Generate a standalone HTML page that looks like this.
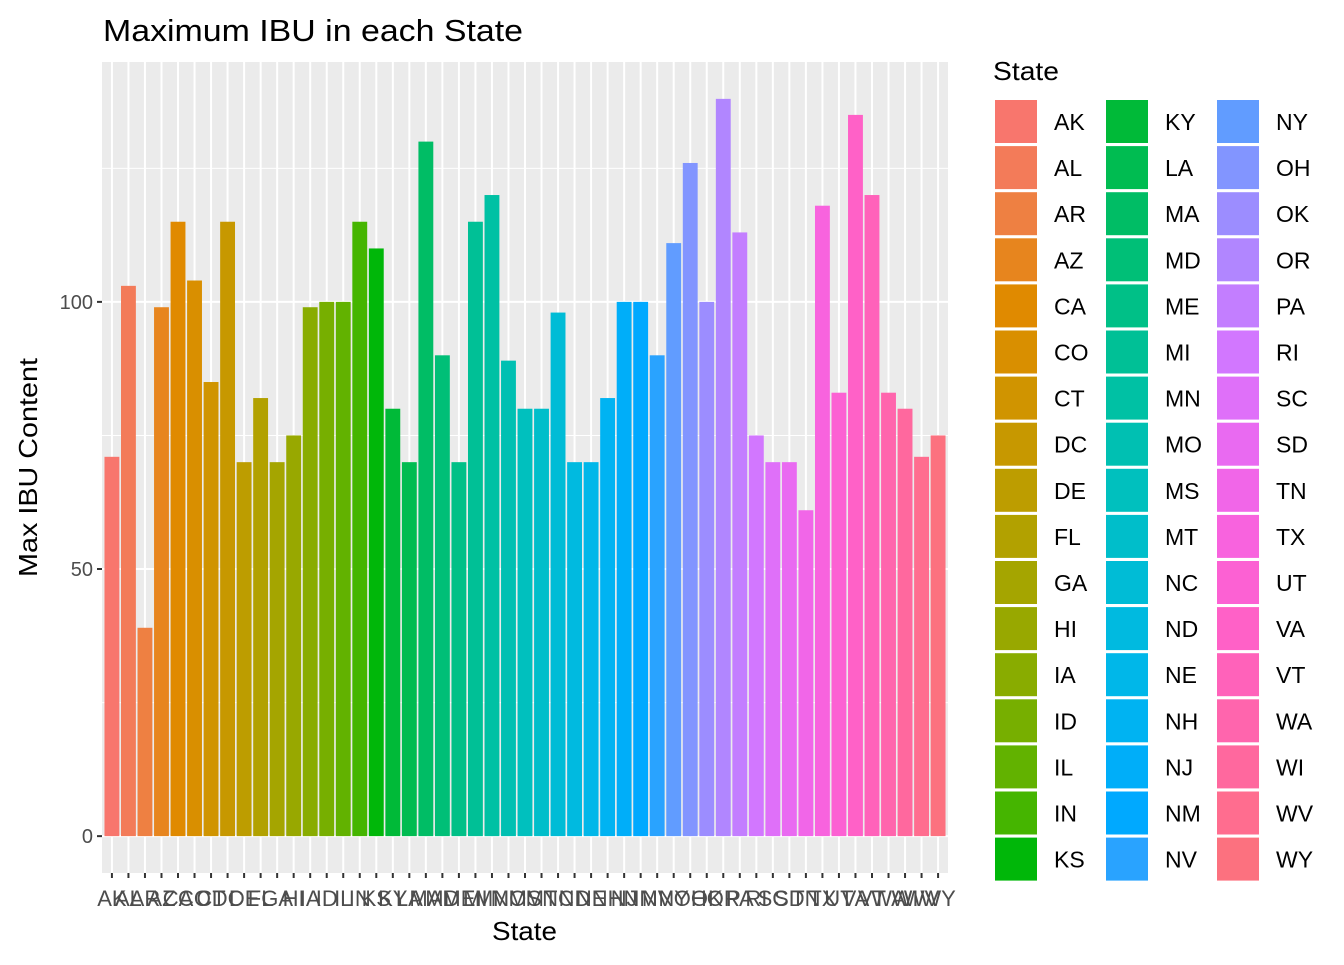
<!DOCTYPE html>
<html><head><meta charset="utf-8"><style>
body{margin:0;background:#fff;font-family:"Liberation Sans",Arial,sans-serif}
svg text{font-family:"Liberation Sans",Arial,sans-serif}
</style></head><body>
<svg id="chart" width="1344" height="960" xmlns="http://www.w3.org/2000/svg">
<rect width="1344" height="960" fill="#fff"/>
<text x="103" y="41" font-size="31" textLength="420" lengthAdjust="spacingAndGlyphs" fill="#000">Maximum IBU in each State</text>
<rect x="102" y="62" width="846" height="811" fill="#EBEBEB"/>
<g id="grid"></g><g id="bars"></g><g id="axes"></g><g id="legend"></g>
<text x="492" y="940" font-size="26" textLength="65" lengthAdjust="spacingAndGlyphs">State</text>
<text transform="translate(37,577) rotate(-90)" font-size="26" textLength="219" lengthAdjust="spacingAndGlyphs">Max IBU Content</text>
<text x="993" y="80" font-size="26" textLength="66" lengthAdjust="spacingAndGlyphs">State</text>
</svg>
<script>
const states=["AK","AL","AR","AZ","CA","CO","CT","DC","DE","FL","GA","HI","IA","ID","IL","IN","KS","KY","LA","MA","MD","ME","MI","MN","MO","MS","MT","NC","ND","NE","NH","NJ","NM","NV","NY","OH","OK","OR","PA","RI","SC","SD","TN","TX","UT","VA","VT","WA","WI","WV","WY"];
const maxIBU=[71,103,39,99,115,104,85,115,70,82,70,75,99,100,100,115,110,80,70,130,90,70,115,120,89,80,80,98,70,70,82,100,100,90,111,126,100,138,113,75,70,70,61,118,83,135,120,83,80,71,75];
const yTicks=[0,50,100];
const yMinor=[25,75,125];
const NS="http://www.w3.org/2000/svg";
function mk(tag,attrs,parent){const e=document.createElementNS(NS,tag);for(const k in attrs)e.setAttribute(k,attrs[k]);parent.appendChild(e);return e;}
function hcl(h,c,l){const hr=h*Math.PI/180,u=c*Math.cos(hr),v=c*Math.sin(hr);
 const Xn=95.047,Yn=100,Zn=108.883;const Y=l>8?Yn*Math.pow((l+16)/116,3):Yn*l/903.3;
 const d=Xn+15*Yn+3*Zn,un=4*Xn/d,vn=9*Yn/d;const up=u/(13*l)+un,vp=v/(13*l)+vn;
 const X=9*Y*up/(4*vp),Z=Y*(12-3*up-20*vp)/(4*vp);
 const x=X/100,y=Y/100,z=Z/100;
 let r=3.2404542*x-1.5371385*y-0.4985314*z,g=-0.9692660*x+1.8760108*y+0.0415560*z,b=0.0556434*x-0.2040259*y+1.0572252*z;
 const f=t=>{t=t<=0.0031308?12.92*t:1.055*Math.pow(t,1/2.4)-0.055;return Math.round(Math.max(0,Math.min(1,t))*255);};
 return `rgb(${f(r)},${f(g)},${f(b)})`;}
const n=states.length;
const colors=states.map((s,i)=>hcl(15+i*360/n,100,65));
const px0=102,pw=846,py0=62,ph=811;
const maxV=Math.max(...maxIBU),yLo=-0.05*maxV,yHi=maxV*1.05;
const y=v=>py0+ph*(yHi-v)/(yHi-yLo);
const step=pw/(n+0.2);
const x=i=>px0+(i+0.6)*step;
const grid=document.getElementById('grid'),bars=document.getElementById('bars'),axes=document.getElementById('axes'),leg=document.getElementById('legend');
yMinor.forEach(v=>{if(v<yHi){const l=mk('line',{x1:px0,x2:px0+pw,y1:y(v),y2:y(v),stroke:'#fff','stroke-width':1},grid);}});
yTicks.forEach(v=>{const l=mk('line',{x1:px0,x2:px0+pw,y1:y(v),y2:y(v),stroke:'#fff','stroke-width':2},grid);
 const t=mk('line',{x1:px0-5,x2:px0,y1:y(v),y2:y(v),stroke:'#333','stroke-width':2},axes);
 const tx=mk('text',{x:px0-9,y:y(v)+7,'font-size':20,fill:'#4D4D4D','text-anchor':'end'},axes);tx.textContent=v;});
states.forEach((s,i)=>{const cx=x(i);
 const g=mk('line',{x1:cx,x2:cx,y1:py0,y2:py0+ph,stroke:'#fff','stroke-width':2},grid);
 const bw=step*0.9;const b=mk('rect',{x:cx-bw/2,y:y(maxIBU[i]),width:bw,height:y(0)-y(maxIBU[i]),fill:colors[i]},bars);
 
 const t=mk('line',{x1:cx,x2:cx,y1:py0+ph,y2:py0+ph+5,stroke:'#333','stroke-width':2},axes);
 const tx=mk('text',{x:cx,y:906,'font-size':22,fill:'#4D4D4D','text-anchor':'middle'},axes);tx.textContent=s;
 const col=Math.floor(i/17),row=i%17;const lx=995+col*111,ly=100+row*46.1;
 const k=mk('rect',{x:lx,y:ly,width:42,height:43,fill:colors[i]},leg);
 const lt=mk('text',{x:lx+59,y:ly+30,'font-size':23,fill:'#000'},leg);lt.textContent=s;
});
</script>
</body></html>
